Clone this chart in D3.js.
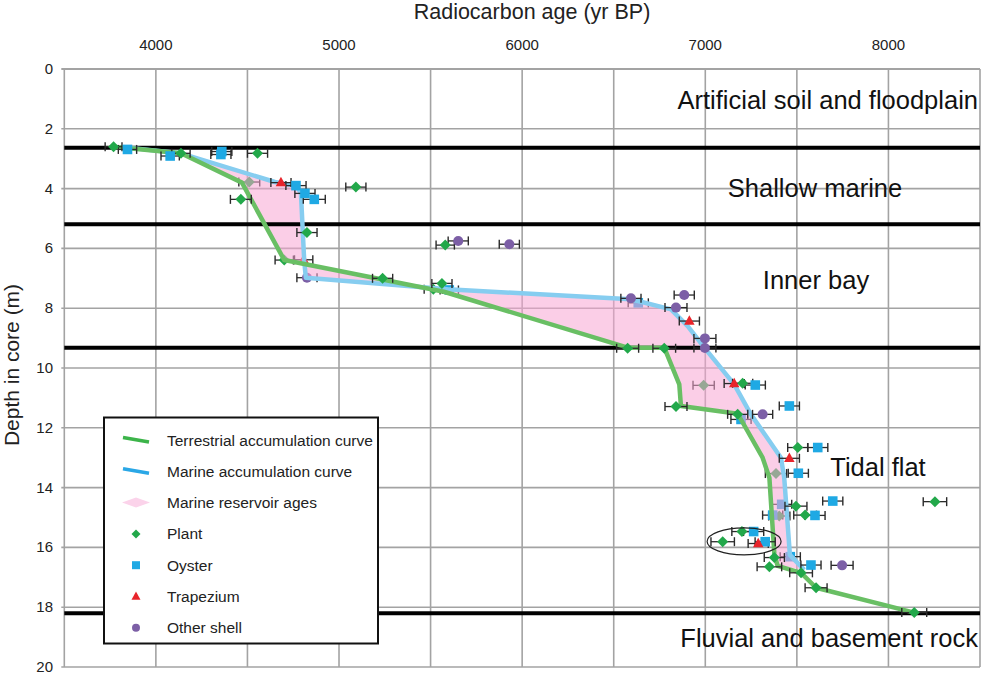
<!DOCTYPE html>
<html><head><meta charset="utf-8">
<script src="https://cdn.jsdelivr.net/npm/d3@7"></script>
<style>
html,body{margin:0;padding:0;background:#fff;}
text{font-family:"Liberation Sans",Arial,sans-serif;}
</style></head>
<body>
<svg id="chart" width="982" height="678"></svg>
<script>
// ---------- DATA ----------
const xTicks = [4000, 5000, 6000, 7000, 8000];
const xGrid = [3500, 4000, 4500, 5000, 5500, 6000, 6500, 7000, 7500, 8000, 8500];
const yTicks = [0, 2, 4, 6, 8, 10, 12, 14, 16, 18, 20];

const terrestrialAge   = [3769, 4137, 4470, 4701, 5573, 6576, 6776, 6858, 6867, 7177, 7313, 7350, 7377, 7395, 7523, 7605, 8141];
const terrestrialDepth = [2.60, 2.82, 3.80, 6.39, 7.45, 9.32, 9.32, 10.55, 11.27, 11.53, 13.0, 13.67, 16.22, 16.62, 16.85, 17.35, 18.18];

const marineAge   = [3845, 4137, 4650, 4765, 4792, 4810, 4819, 5593, 6594, 6813, 6904, 6995, 7158, 7249, 7413, 7431, 7462, 7540];
const marineDepth = [2.63, 2.82, 3.78, 3.91, 4.14, 6.42, 6.98, 7.37, 7.70, 8.04, 8.60, 9.32, 10.55, 11.55, 13.0, 13.67, 16.25, 16.75];

const plantAge   = [3769, 4137, 4555, 4510, 4464, 5092, 4825, 4701, 5238, 5580, 5562, 5515, 6576, 6776, 6991, 7204, 6840, 7177, 7386, 7505, 8254, 7495, 7545, 7404, 7200, 7095, 7377, 7350, 7523, 7605, 8141];
const plantDepth = [2.60, 2.82, 2.82, 3.78, 4.36, 3.95, 5.47, 6.39, 7.00, 5.89, 7.17, 7.37, 9.34, 9.34, 10.58, 10.51, 11.29, 11.55, 13.53, 12.66, 14.47, 14.62, 14.92, 14.95, 15.47, 15.81, 16.34, 16.65, 16.85, 17.35, 18.18];
const plantErr   = [46, 50, 55, 57, 57, 55, 55, 50, 55, 50, 55, 50, 60, 62, 58, 55, 60, 55, 58, 55, 64, 60, 62, 58, 55, 64, 55, 67, 62, 60, 68];

const oysterAge   = [3845, 4078, 4360, 4355, 4765, 4814, 4865, 5602, 6634, 7273, 7459, 7614, 7508, 7696, 7417, 7599, 7368, 7264, 7327, 7464, 7577, 7195];
const oysterDepth = [2.69, 2.91, 2.76, 2.86, 3.90, 4.16, 4.36, 7.39, 7.82, 10.57, 11.27, 12.66, 13.52, 14.45, 14.56, 14.93, 14.92, 15.47, 15.81, 16.31, 16.59, 11.72];
const oysterErr   = [50, 50, 55, 55, 55, 55, 60, 50, 55, 55, 55, 55, 55, 55, 55, 55, 55, 55, 55, 55, 55, 55];

const trapAge   = [4683, 4807, 6913, 7158, 7459, 7289];
const trapDepth = [3.80, 6.38, 8.43, 10.52, 13.02, 15.87];
const trapErr   = [55, 50, 55, 55, 55, 55];

const shellAge   = [5651, 5930, 4825, 6594, 6885, 6840, 6998, 6998, 7313, 7747];
const shellDepth = [5.75, 5.86, 6.98, 7.67, 7.56, 7.98, 9.01, 9.33, 11.55, 16.60];
const shellErr   = [55, 55, 55, 55, 55, 60, 60, 60, 55, 60];

const boundaryDepths = [2.63, 5.19, 9.32, 18.2];
const zoneNames = ["Artificial soil and floodplain", "Shallow marine", "Inner bay", "Tidal flat", "Fluvial and basement rock"];
const legendLabels = ["Terrestrial accumulation curve", "Marine accumulation curve", "Marine reservoir ages", "Plant", "Oyster", "Trapezium", "Other shell"];
// circled samples (annotation)
const circledAge = [7010, 7414];
const circledDepth = [15.35, 16.25];

// ---------- LAYOUT ----------
const svg = d3.select("#chart");
const x = d3.scaleLinear().domain([3500, 8500]).range([64.3, 980]);
const y = d3.scaleLinear().domain([0, 20]).range([69, 667]);

const C = {
  grid: "#a3a3a3", green: "#69bf64", blue: "#86cdf0", pink: "rgba(248,165,212,0.55)",
  plant: "#22a84a", oyster: "#1fa9e4", trap: "#e8242b", shell: "#7c5fa6", bar: "#2a2a2a"
};

const g = svg.append("g");

// gridlines
g.selectAll(".vg").data(xGrid).join("line")
  .attr("x1", d => x(d)).attr("x2", d => x(d)).attr("y1", y(0)).attr("y2", y(20))
  .attr("stroke", C.grid).attr("stroke-width", 1.6);
g.selectAll(".hg").data(yTicks).join("line")
  .attr("x1", x(3500) - 3).attr("x2", x(8500)).attr("y1", d => y(d)).attr("y2", d => y(d))
  .attr("stroke", C.grid).attr("stroke-width", d => d === 0 ? 2.2 : 1.6);

// axis labels
g.selectAll(".xt").data(xTicks).join("text")
  .attr("x", d => x(d)).attr("y", 50).attr("text-anchor", "middle")
  .attr("font-size", 15).attr("fill", "#222").text(d => d);
g.selectAll(".yt").data(yTicks).join("text")
  .attr("x", 53).attr("y", d => y(d) + 5).attr("text-anchor", "end")
  .attr("font-size", 15).attr("fill", "#222").text(d => d);
svg.append("text").attr("x", 532).attr("y", 19).attr("text-anchor", "middle")
  .attr("font-size", 21.5).attr("fill", "#222").text("Radiocarbon age (yr BP)");
svg.append("text").attr("transform", `translate(19,${365}) rotate(-90)`).attr("text-anchor", "middle")
  .attr("font-size", 21).attr("fill", "#222").text("Depth in core (m)");

// helpers
function pts(ax, ay) { return ax.map((v, i) => [x(v), y(ay[i])]); }
const greenPts = pts(terrestrialAge, terrestrialDepth);
const bluePts = pts(marineAge, marineDepth);
const gEnd = terrestrialDepth.findIndex(d => d > marineDepth[marineDepth.length - 1]);
const pinkPoly = greenPts.slice(0, gEnd).concat(bluePts.slice().reverse());

function diamond(r) { return `M0,${-r}L${r},0L0,${r}L${-r},0Z`; }
function square(r) { return `M${-r},${-r}H${r}V${r}H${-r}Z`; }
function triangle(r) { return `M0,${-r * 1.15}L${r * 1.05},${r * 0.75}L${-r * 1.05},${r * 0.75}Z`; }
function circle(r) { return `M${r},0A${r},${r} 0 1,1 ${-r},0A${r},${r} 0 1,1 ${r},0Z`; }

const groups = [
  { age: plantAge, depth: plantDepth, err: plantErr, path: diamond(5.5), color: C.plant },
  { age: oysterAge, depth: oysterDepth, err: oysterErr, path: square(4.8), color: C.oyster },
  { age: trapAge, depth: trapDepth, err: trapErr, path: triangle(5), color: C.trap },
  { age: shellAge, depth: shellDepth, err: shellErr, path: circle(5), color: C.shell }
];
const allRecords = [];
groups.forEach(gr => gr.age.forEach((a, i) => {
  const px = x(a), py = y(gr.depth[i]);
  allRecords.push({ a, d: gr.depth[i], e: gr.err[i], path: gr.path, color: gr.color,
    inside: d3.polygonContains(pinkPoly, [px, py]) });
}));

function drawRecords(layer, recs) {
  const eb = layer.append("g");
  recs.forEach(r => {
    const x0 = x(r.a - r.e), x1 = x(r.a + r.e), yy = y(r.d);
    eb.append("line").attr("x1", x0).attr("x2", x1).attr("y1", yy).attr("y2", yy).attr("stroke", C.bar).attr("stroke-width", 1.3);
    [x0, x1].forEach(xx => eb.append("line").attr("x1", xx).attr("x2", xx).attr("y1", yy - 4.5).attr("y2", yy + 4.5).attr("stroke", C.bar).attr("stroke-width", 1.4));
  });
  layer.append("g").selectAll("path").data(recs).join("path")
    .attr("d", r => r.path).attr("fill", r => r.color)
    .attr("transform", r => `translate(${x(r.a)},${y(r.d)})`);
}

// samples under the reservoir shading
drawRecords(svg.append("g"), allRecords.filter(r => r.inside));

// reservoir shading
svg.append("path").attr("d", "M" + pinkPoly.join("L") + "Z").attr("fill", C.pink).attr("stroke", "none");

// boundary lines
svg.selectAll(".bl").data(boundaryDepths).join("line")
  .attr("x1", x(3500)).attr("x2", x(8500)).attr("y1", d => y(d)).attr("y2", d => y(d))
  .attr("stroke", "#000").attr("stroke-width", 4);

// curves
const line = d3.line();
svg.append("path").attr("d", line(bluePts)).attr("fill", "none").attr("stroke", C.blue)
  .attr("stroke-width", 4.5).attr("stroke-linejoin", "round");
svg.append("path").attr("d", line(greenPts)).attr("fill", "none").attr("stroke", C.green)
  .attr("stroke-width", 4.5).attr("stroke-linejoin", "round");

// samples outside the shading
drawRecords(svg.append("g"), allRecords.filter(r => !r.inside));

// circled group
const ex0 = x(circledAge[0]), ex1 = x(circledAge[1]), ey0 = y(circledDepth[0]), ey1 = y(circledDepth[1]);
svg.append("ellipse").attr("cx", (ex0 + ex1) / 2).attr("cy", (ey0 + ey1) / 2)
  .attr("rx", (ex1 - ex0) / 2).attr("ry", (ey1 - ey0) / 2)
  .attr("fill", "none").attr("stroke", "#222").attr("stroke-width", 1.2);

// zone labels
const zonePos = [[978, 109, "end"], [815, 197, "middle"], [816, 289, "middle"], [878, 476, "middle"], [978, 647, "end"]];
svg.selectAll(".zl").data(zoneNames).join("text")
  .attr("x", (d, i) => zonePos[i][0]).attr("y", (d, i) => zonePos[i][1])
  .attr("text-anchor", (d, i) => zonePos[i][2])
  .attr("font-size", 25.5).attr("fill", "#111").text(d => d);

// legend
const lg = svg.append("g");
lg.append("rect").attr("x", 104).attr("y", 417.5).attr("width", 274).attr("height", 226)
  .attr("fill", "#fff").attr("stroke", "#111").attr("stroke-width", 2);
const rowY = d => 440 + d * 31.3;
lg.selectAll("text").data(legendLabels).join("text")
  .attr("x", 167).attr("y", (d, i) => rowY(i) + 5.5).attr("font-size", 15.5).attr("fill", "#222").text(d => d);
lg.append("line").attr("x1", 123).attr("x2", 149).attr("y1", rowY(0) - 2.5).attr("y2", rowY(0) + 2)
  .attr("stroke", "#3cb44a").attr("stroke-width", 3.5);
lg.append("line").attr("x1", 123).attr("x2", 149).attr("y1", rowY(1) - 2.5).attr("y2", rowY(1) + 2)
  .attr("stroke", "#2aa7e6").attr("stroke-width", 3.5);
lg.append("path").attr("d", `M122,${rowY(2)}L136,${rowY(2) - 5}L150,${rowY(2)}L136,${rowY(2) + 5}Z`)
  .attr("fill", "#fbd3ea");
lg.append("path").attr("d", diamond(4.5)).attr("fill", C.plant).attr("transform", `translate(136,${rowY(3)})`);
lg.append("path").attr("d", square(4)).attr("fill", C.oyster).attr("transform", `translate(136,${rowY(4)})`);
lg.append("path").attr("d", triangle(4.3)).attr("fill", C.trap).attr("transform", `translate(136,${rowY(5)})`);
lg.append("path").attr("d", circle(4)).attr("fill", C.shell).attr("transform", `translate(136,${rowY(6)})`);
</script>
</body></html>
